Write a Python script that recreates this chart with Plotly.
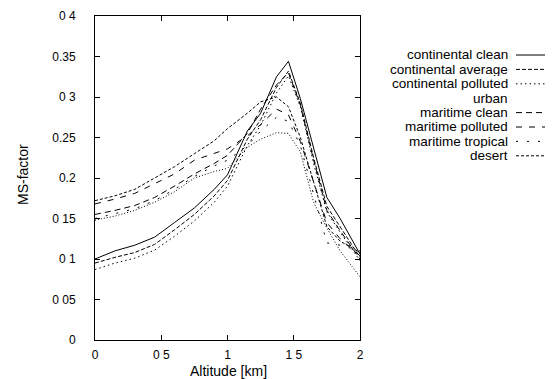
import plotly.graph_objects as go

# Altitude grid (km)
altitude = [0, 0.15, 0.3, 0.45, 0.6, 0.75, 0.9, 1.0, 1.15, 1.25, 1.37, 1.46, 1.55, 1.65, 1.75, 1.85, 2.0]

continental_clean = [.100, .110, .117, .127, .145, .163, .186, .204, .258, .280, .325, .344, .298, .238, .176, .150, .106]
continental_average = [.095, .102, .108, .118, .136, .155, .178, .197, .248, .272, .312, .332, .292, .225, .165, .140, .102]
continental_polluted = [.087, .095, .101, .111, .128, .147, .170, .190, .240, .265, .305, .326, .288, .218, .158, .133, .098]
urban = [.148, .153, .160, .170, .183, .200, .208, .212, .238, .248, .256, .255, .232, .170, .138, .110, .078]
maritime_clean = [.155, .160, .166, .176, .190, .205, .218, .228, .255, .285, .315, .330, .290, .222, .160, .135, .100]
maritime_polluted = [.168, .174, .181, .193, .205, .222, .230, .236, .252, .266, .285, .278, .245, .195, .145, .125, .104]
maritime_tropical = [.150, .156, .162, .172, .186, .202, .215, .222, .240, .258, .275, .270, .240, .180, .120, .117, .110]
desert = [.172, .178, .186, .200, .214, .230, .246, .261, .280, .294, .300, .288, .250, .195, .140, .122, .108]

series_names = ["continental clean", "continental average", "continental polluted", "urban",
                "maritime clean", "maritime polluted", "maritime tropical", "desert"]
series_values = [continental_clean, continental_average, continental_polluted, urban,
                 maritime_clean, maritime_polluted, maritime_tropical, desert]
dashes = ["solid", "4px,2px", "1.5px,3px", "1px,2px", "6px,4px", "6px,7px", "2px,9px", "3px,2px"]
show_sample = [True, True, True, False, True, True, True, True]

x_tickvals = [0, 0.5, 1, 1.5, 2]
x_ticktext = ["0", "0 5", "1", "1 5", "2"]
y_tickvals = [0, 0.05, 0.1, 0.15, 0.2, 0.25, 0.3, 0.35, 0.4]
y_ticktext = ["0", "0 05", "0 1", "0 15", "0.2", "0.25", "0 3", "0.35", "0 4"]

FONT = "Liberation Sans, Arial, sans-serif"

# the page body adds an 8px margin; compensate so the plot lands where intended
OFF = 8
FIG_W, FIG_H = 555 - OFF, 379 - OFF
L, R, T, B = 95, 360, 16, 340          # plot area in window pixels
W, H = R - L, B - T

def px_x(p):
    return (p - L) / W

def px_y(p):
    return (B - p) / H

fig = go.Figure()
for name, vals, dash in zip(series_names, series_values, dashes):
    fig.add_trace(go.Scatter(x=altitude, y=vals, mode="lines", name=name,
                             line=dict(color="black", width=1, dash=dash),
                             showlegend=False))

annotations = []
shapes = []
for i, (name, dash, show) in enumerate(zip(series_names, dashes, show_sample)):
    ypx = 55 + 14.4 * i
    annotations.append(dict(xref="paper", yref="paper", x=px_x(509), y=px_y(ypx),
                            text=name, showarrow=False, xanchor="right", yanchor="middle",
                            borderpad=0, height=13,
                            font=dict(family=FONT, size=13.5, color="black")))
    if show:
        shapes.append(dict(type="line", xref="paper", yref="paper",
                           x0=px_x(516), x1=px_x(545), y0=px_y(ypx), y1=px_y(ypx),
                           line=dict(color="black", width=1, dash=dash)))

annotations.append(dict(xref="paper", yref="paper", x=px_x(23), y=px_y(175),
                        text="MS-factor", showarrow=False, textangle=-90,
                        xanchor="center", yanchor="middle",
                        font=dict(family=FONT, size=14, color="black")))
annotations.append(dict(xref="paper", yref="paper", x=px_x(228), y=px_y(371),
                        text="Altitude [km]", showarrow=False,
                        xanchor="center", yanchor="middle",
                        font=dict(family=FONT, size=14, color="black")))

fig.update_layout(
    width=FIG_W, height=FIG_H,
    margin=dict(l=L - OFF, r=FIG_W - (R - OFF), t=T - OFF, b=FIG_H - (B - OFF)),
    paper_bgcolor="white", plot_bgcolor="white",
    font=dict(family=FONT, size=12, color="black"),
    annotations=annotations, shapes=shapes,
    showlegend=False,
)
fig.update_xaxes(range=[0, 2], tickvals=x_tickvals, ticktext=x_ticktext,
                 ticks="inside", ticklen=5, tickcolor="black",
                 showline=True, linecolor="black", linewidth=1, mirror="ticks",
                 showgrid=False, zeroline=False, ticklabelstandoff=4, automargin=False,
                 ticklabeloverflow="allow")
fig.update_yaxes(range=[0, 0.4], tickvals=y_tickvals, ticktext=y_ticktext,
                 ticks="inside", ticklen=5, tickcolor="black",
                 showline=True, linecolor="black", linewidth=1, mirror="ticks",
                 showgrid=False, zeroline=False, ticklabelstandoff=16, automargin=False,
                 ticklabeloverflow="allow")

fig.write_html("out.html")
